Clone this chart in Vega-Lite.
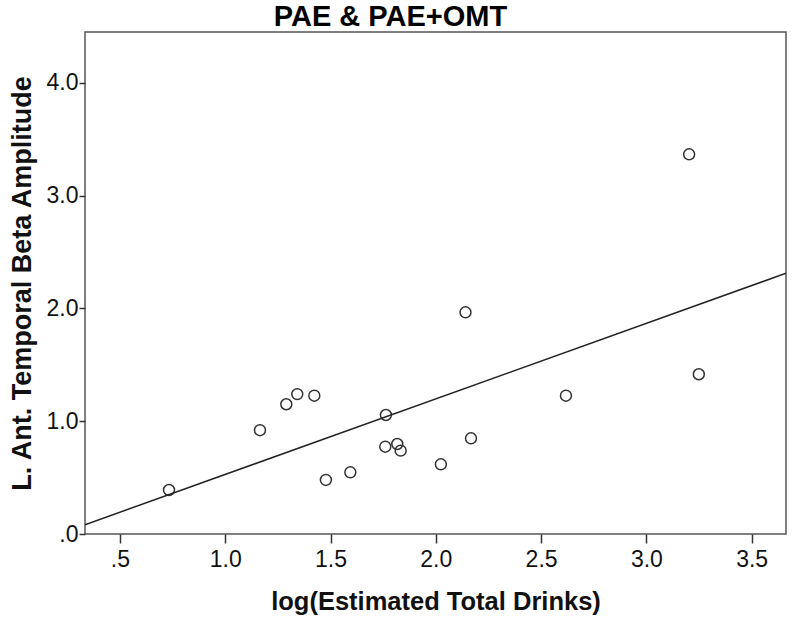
{
  "$schema": "https://vega.github.io/schema/vega-lite/v6.json",
  "width": 701,
  "height": 502,
  "autosize": "none",
  "padding": {"left": 85, "top": 32, "right": 6, "bottom": 85},
  "background": "white",
  "title": {
    "text": "PAE & PAE+OMT",
    "font": "Liberation Sans",
    "fontSize": 29,
    "fontWeight": "bold",
    "color": "#000000",
    "anchor": "middle",
    "dx": -45,
    "offset": 0
  },
  "config": {
    "view": {"stroke": "#555555", "strokeWidth": 1.5},
    "axis": {
      "grid": false,
      "domain": false,
      "tickColor": "#333333",
      "tickWidth": 1.5,
      "labelFont": "Liberation Sans",
      "labelFontSize": 23,
      "labelColor": "#111111",
      "titleFont": "Liberation Sans",
      "titleFontWeight": "bold",
      "titleColor": "#111111"
    }
  },
  "data": {
    "values": [
      {"x": 0.733, "y": 0.39},
      {"x": 1.165, "y": 0.92},
      {"x": 1.29, "y": 1.15},
      {"x": 1.342, "y": 1.24},
      {"x": 1.423, "y": 1.226},
      {"x": 1.478, "y": 0.479},
      {"x": 1.594, "y": 0.547},
      {"x": 1.763, "y": 1.055},
      {"x": 1.76, "y": 0.774},
      {"x": 1.817, "y": 0.798},
      {"x": 1.833, "y": 0.739},
      {"x": 2.024, "y": 0.618},
      {"x": 2.141, "y": 1.965},
      {"x": 2.167, "y": 0.848},
      {"x": 2.618, "y": 1.226},
      {"x": 3.249, "y": 1.416},
      {"x": 3.203, "y": 3.366}
    ]
  },
  "encoding": {
    "x": {
      "field": "x",
      "type": "quantitative",
      "scale": {"domain": [0.334, 3.663], "nice": false, "zero": false},
      "axis": {
        "values": [0.5, 1, 1.5, 2, 2.5, 3, 3.5],
        "labelExpr": "replace(format(datum.value, '.1f'), '0.', '.')",
        "tickSize": 9,
        "labelPadding": 5,
        "title": "log(Estimated Total Drinks)",
        "titleFontSize": 25.5,
        "titlePadding": 18
      }
    },
    "y": {
      "field": "y",
      "type": "quantitative",
      "scale": {"domain": [0, 4.45], "nice": false},
      "axis": {
        "values": [0, 1, 2, 3, 4],
        "labelExpr": "replace(format(datum.value, '.1f'), '0.', '.')",
        "tickSize": 6,
        "labelPadding": 1,
        "title": "L. Ant. Temporal Beta Amplitude",
        "titleFontSize": 27,
        "titlePadding": 10
      }
    }
  },
  "layer": [
    {
      "mark": {"type": "point", "shape": "circle", "filled": false, "size": 120, "stroke": "#333333", "strokeWidth": 1.5, "opacity": 1}
    },
    {
      "transform": [{"regression": "y", "on": "x", "extent": [0.334, 3.663]}],
      "mark": {"type": "line", "color": "#222222", "strokeWidth": 1.5, "clip": true}
    }
  ]
}
